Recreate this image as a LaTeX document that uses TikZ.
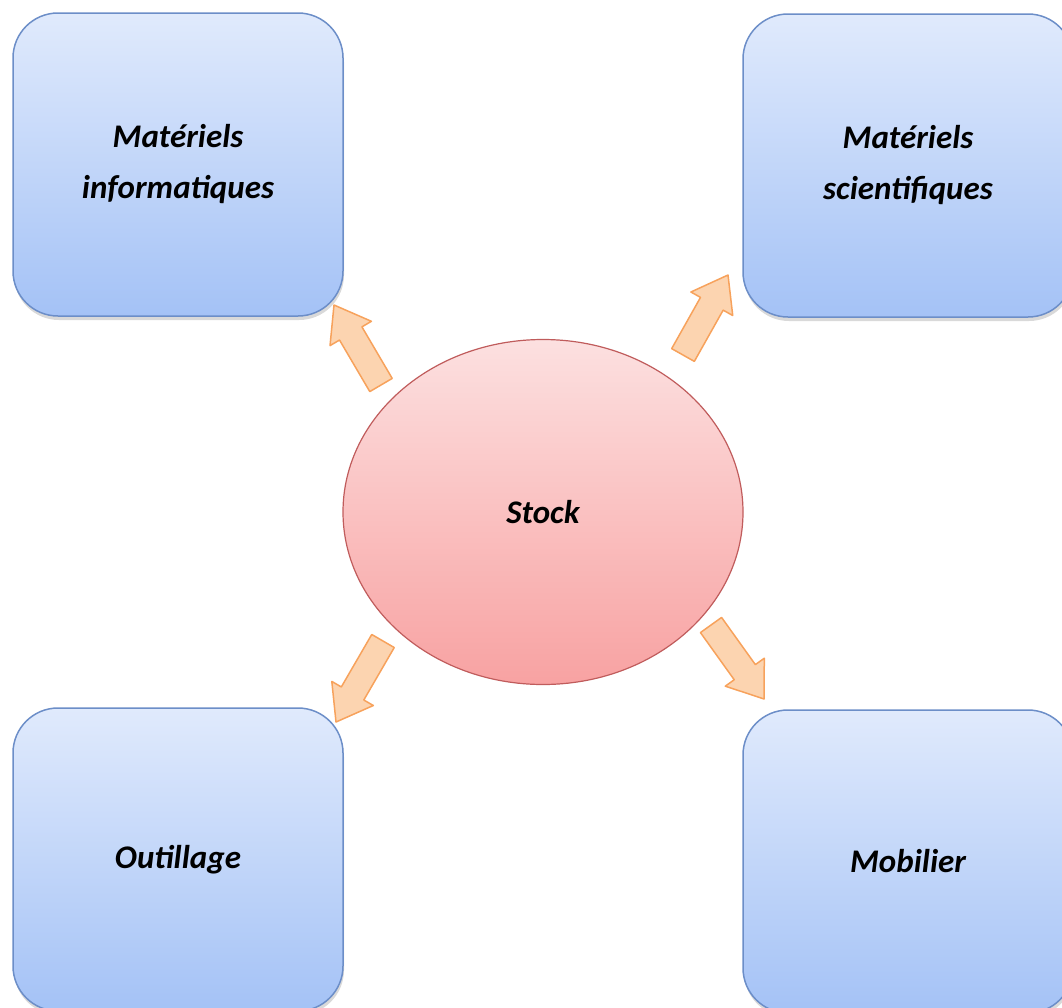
\documentclass[tikz,border=0pt]{standalone}
\usepackage{fontspec}
\setmainfont{Carlito}
\usetikzlibrary{shapes.geometric,shadows,calc}

\definecolor{boxtop}{RGB}{224,234,252}
\definecolor{boxbot}{RGB}{164,194,246}
\definecolor{boxline}{RGB}{108,142,200}
\definecolor{stocktop}{RGB}{252,224,224}
\definecolor{stockbot}{RGB}{248,162,162}
\definecolor{stockline}{RGB}{192,92,92}
\definecolor{arrowfill}{RGB}{252,212,176}
\definecolor{arrowline}{RGB}{247,162,92}

% block arrow from tail #1 to tip #2
\newcommand{\blockarrow}[2]{%
  \coordinate (neck) at ($(#2)!33pt!(#1)$);
  \draw[blockarr] ($(#1)!13pt!90:(#2)$) -- ($(neck)!13pt!90:(#2)$) -- ($(neck)!24pt!90:(#2)$)
    -- (#2) -- ($(neck)!24pt!-90:(#2)$) -- ($(neck)!13pt!-90:(#2)$) -- ($(#1)!13pt!-90:(#2)$) -- cycle;}

\begin{document}
\begin{tikzpicture}[x=1pt, y=-1pt,
    box/.style={draw=boxline, line width=1.5pt, rounded corners=45pt, top color=boxtop, bottom color=boxbot,
      minimum width=330pt, minimum height=303pt, align=center,
      font=\fontsize{33}{51}\selectfont\bfseries\itshape,
      drop shadow={opacity=0.3, shadow xshift=1pt, shadow yshift=-4pt}},
    stockbox/.style={ellipse, draw=stockline, line width=1.2pt, top color=stocktop, bottom color=stockbot,
      minimum width=400pt, minimum height=345pt, font=\fontsize{33}{51}\selectfont\bfseries\itshape},
    blockarr/.style={fill=arrowfill, draw=arrowline, line width=1.5pt, line join=round}]
\useasboundingbox (0,0) rectangle (1062,1007);
\clip (0,0) rectangle (1062,1007);

% boxes
\node[box] (info) at (178,164.5) {Matériels\\informatiques};
\node[box] (scient) at (908,165.5) {Matériels\\scientifiques};
\node[box] (outil) at (178,859.5) {Outillage};
\node[box] (mobil) at (908,861.5) {Mobilier};

\node[stockbox] (stock) at (543,512) {Stock};

% arrow ends
\coordinate (infoT) at (381,385);  \coordinate (infoH) at (334,305);
\coordinate (scientT) at (683,355); \coordinate (scientH) at (728,275);
\coordinate (outilT) at (383,641); \coordinate (outilH) at (336,722);
\coordinate (mobilT) at (711,625); \coordinate (mobilH) at (764,699);

\blockarrow{infoT}{infoH}
\blockarrow{scientT}{scientH}
\blockarrow{outilT}{outilH}
\blockarrow{mobilT}{mobilH}

\end{tikzpicture}
\end{document}
